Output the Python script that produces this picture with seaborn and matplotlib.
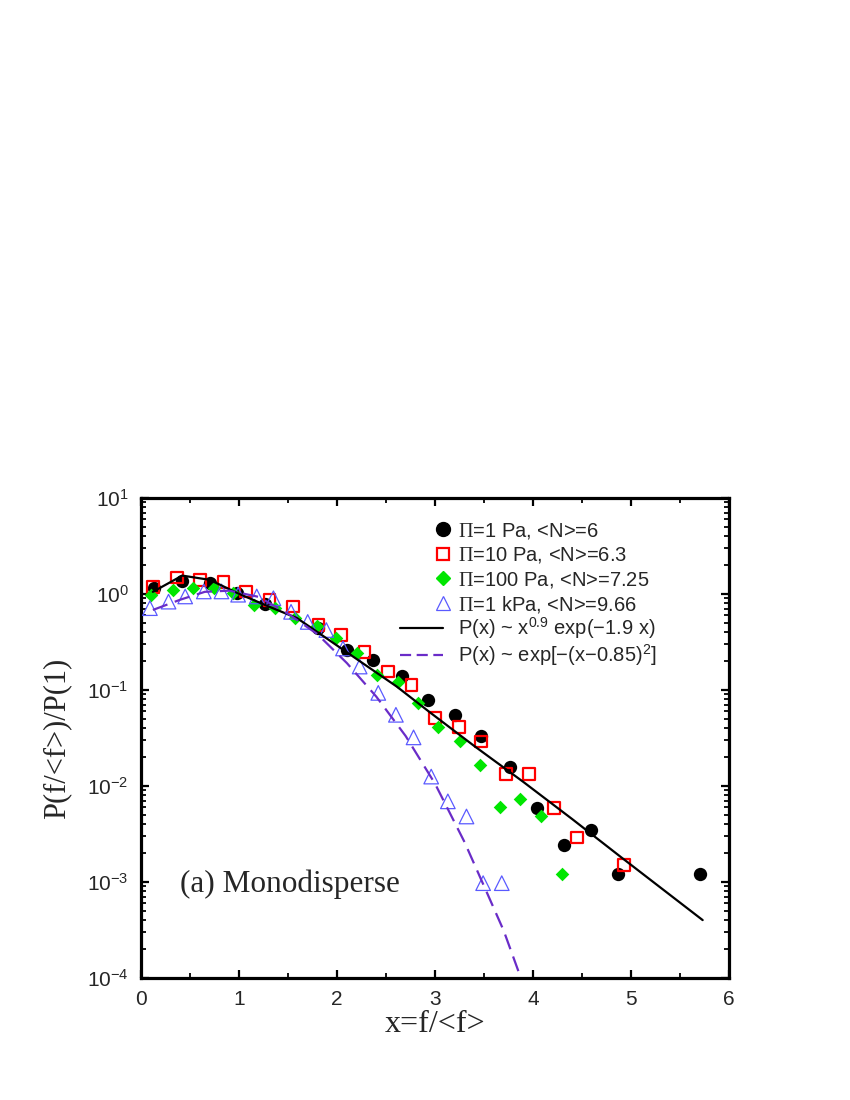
import numpy as np
import pandas as pd
import matplotlib
matplotlib.use("Agg")
import matplotlib.pyplot as plt
import seaborn as sns
from matplotlib.lines import Line2D
from matplotlib.legend_handler import HandlerLine2D
from matplotlib.ticker import MultipleLocator, LogLocator, FuncFormatter, NullFormatter

# ---------------- data ----------------
x_1pa = [0.13, 0.42, 0.70, 0.98, 1.26, 1.80, 2.10, 2.37, 2.66, 2.93, 3.20, 3.47,
         3.76, 4.04, 4.31, 4.59, 4.87, 5.70]
y_1pa = [1.15, 1.37, 1.30, 1.02, 0.79, 0.44, 0.26, 0.205, 0.138, 0.079, 0.055, 0.033,
         0.0157, 0.0059, 0.0024, 0.0035, 0.0012, 0.0012]

x_10pa = [0.12, 0.37, 0.60, 0.84, 1.07, 1.31, 1.55, 1.81, 2.04, 2.28, 2.52, 2.76,
          3.00, 3.24, 3.47, 3.72, 3.96, 4.21, 4.45, 4.93]
y_10pa = [1.19, 1.48, 1.40, 1.34, 1.06, 0.87, 0.74, 0.475, 0.374, 0.25, 0.155, 0.113,
          0.051, 0.041, 0.029, 0.0133, 0.0133, 0.0059, 0.0029, 0.0015]

x_100pa = [0.10, 0.33, 0.53, 0.74, 0.94, 1.15, 1.37, 1.57, 1.79, 1.99, 2.20, 2.41,
           2.62, 2.83, 3.03, 3.25, 3.46, 3.66, 3.87, 4.08, 4.29]
y_100pa = [0.98, 1.10, 1.15, 1.15, 1.02, 0.76, 0.72, 0.56, 0.46, 0.345, 0.24, 0.143,
           0.122, 0.073, 0.041, 0.029, 0.0166, 0.006, 0.0073, 0.0048, 0.0012]

x_1kpa = [0.09, 0.28, 0.45, 0.64, 0.82, 0.99, 1.18, 1.35, 1.53, 1.70, 1.89, 2.06,
          2.23, 2.42, 2.60, 2.78, 2.96, 3.13, 3.32, 3.49, 3.68]
y_1kpa = [0.71, 0.83, 0.94, 1.06, 1.06, 0.98, 0.94, 0.90, 0.65, 0.51, 0.42, 0.27,
          0.175, 0.093, 0.055, 0.032, 0.0125, 0.0069, 0.0048, 0.00097, 0.00097]

# fitted curves, as drawn (polyline vertices)
x_fit_pow = [0.12, 0.42, 0.70, 1.00, 1.30, 1.59, 1.90, 2.26, 2.61, 2.95, 3.40, 3.90,
             4.40, 4.90, 5.73]
y_fit_pow = [1.05, 1.55, 1.40, 1.00, 0.74, 0.56, 0.34, 0.19, 0.108, 0.058, 0.026, 0.011,
             0.0045, 0.0018, 0.0004]

x_fit_gau = [0.12, 0.40, 0.65, 0.90, 1.20, 1.50, 1.80, 2.10, 2.40, 2.70, 3.00, 3.30,
             3.50, 3.70, 3.86]
y_fit_gau = [0.68, 0.87, 1.05, 1.08, 0.93, 0.62, 0.38, 0.19, 0.085, 0.033, 0.0105, 0.0026,
             0.00090, 0.00031, 0.00011]

labels = [r"$\Pi$=1 Pa, <N>=6",
          r"$\Pi$=10 Pa, <N>=6.3",
          r"$\Pi$=100 Pa, <N>=7.25",
          r"$\Pi$=1 kPa, <N>=9.66",
          r"P(x) ~ x$^{\mathsf{0.9}}$ exp(−1.9 x)",
          r"P(x) ~ exp[−(x−0.85)$^{\mathsf{2}}$]"]

x_ticks = [0, 1, 2, 3, 4, 5, 6]

# ---------------- style ----------------
sns.set_style("ticks")
plt.rcParams["font.family"] = ["Liberation Sans", "DejaVu Sans"]
plt.rcParams["mathtext.fontset"] = "custom"
plt.rcParams["mathtext.rm"] = "Liberation Serif"
plt.rcParams["mathtext.sf"] = "Liberation Sans"
plt.rcParams["mathtext.it"] = "Liberation Serif:italic"

BLACK = "#000000"
RED = "#ff0000"
GREEN = "#00e600"
BLUE = "#5a5aff"
PURPLE = "#6a2cc8"

fig = plt.figure(figsize=(8.5, 11), dpi=100)
ax = fig.add_axes([0.166, 0.111, 0.6918, 0.4364])

# ---------------- markers ----------------
sns.scatterplot(x=x_1pa, y=y_1pa, ax=ax, marker="o", s=92, color=BLACK,
                edgecolor=BLACK, linewidth=0, zorder=3)
sns.scatterplot(x=x_10pa, y=y_10pa, ax=ax, marker="s", s=72, facecolor="none",
                edgecolor=RED, linewidth=1.6, zorder=4)
sns.scatterplot(x=x_100pa, y=y_100pa, ax=ax, marker="D", s=48, color=GREEN,
                edgecolor=GREEN, linewidth=0, zorder=5)
sns.scatterplot(x=x_1kpa, y=y_1kpa, ax=ax, marker="^", s=110, facecolor="none",
                edgecolor=BLUE, linewidth=0.9, zorder=6)

# ---------------- fitted curves ----------------
sns.lineplot(x=x_fit_pow, y=y_fit_pow, ax=ax, color=BLACK, linewidth=1.6,
             sort=False, estimator=None, zorder=7)
sns.lineplot(x=x_fit_gau, y=y_fit_gau, ax=ax, color=PURPLE, linewidth=1.6,
             sort=False, estimator=None, zorder=7, dashes=False,
             linestyle=(0, (7, 3.5)))

# ---------------- axes ----------------
ax.set_yscale("log")
ax.set_xlim(0, 6)
ax.set_ylim(1e-4, 1e1)
ax.xaxis.set_major_locator(MultipleLocator(1))
ax.xaxis.set_minor_locator(MultipleLocator(0.5))
ax.set_xticks(x_ticks)
ax.set_xticklabels([str(t) for t in x_ticks])
ax.yaxis.set_major_locator(LogLocator(base=10, numticks=10))
ax.yaxis.set_minor_locator(LogLocator(base=10, subs=np.arange(2, 10), numticks=20))
ax.yaxis.set_minor_formatter(NullFormatter())
ax.yaxis.set_major_formatter(FuncFormatter(
    lambda v, p: r"$\mathsf{10}^{\mathsf{%d}}$" % int(round(np.log10(v)))))

for s in ax.spines.values():
    s.set_linewidth(2.3)
    s.set_color("black")
    s.set_visible(True)
ax.tick_params(which="both", direction="in", top=True, right=True, color="black")
ax.tick_params(which="major", length=6, width=1.6, labelsize=15, pad=9)
ax.tick_params(which="minor", length=3.5, width=1.3)

ax.set_xlabel("x=f/<f>", family=["Liberation Serif"], fontsize=23)
ax.set_ylabel("P(f/<f>)/P(1)", family=["Liberation Serif"], fontsize=22)
ax.xaxis.set_label_coords(0.5, -0.066)
ax.yaxis.set_label_coords(-0.118, 0.5)
ax.grid(False)

ax.text(0.066, 0.196, "(a) Monodisperse", transform=ax.transAxes,
        family=["Liberation Serif"], fontsize=22.5, ha="left", va="center")

# ---------------- legend ----------------
class RightMarker(HandlerLine2D):
    """Single marker placed at the right end of the legend handle."""
    def create_artists(self, legend, orig_handle, xdescent, ydescent, width,
                       height, fontsize, trans):
        xm = [-xdescent + width]
        ym = [(height - ydescent) / 2]
        legline = Line2D(xm, ym)
        self.update_prop(legline, orig_handle, legend)
        legline.set_linestyle("none")
        legline.set_transform(trans)
        return [legline]

handles = [
    Line2D([], [], ls="none", marker="o", ms=10, color=BLACK, mec=BLACK),
    Line2D([], [], ls="none", marker="s", ms=8.5, mfc="none", mec=RED, mew=1.6),
    Line2D([], [], ls="none", marker="D", ms=7, color=GREEN, mec=GREEN),
    Line2D([], [], ls="none", marker="^", ms=10, mfc="none", mec=BLUE, mew=0.9),
    Line2D([], [], color=BLACK, lw=1.6),
    Line2D([], [], color=PURPLE, lw=1.6, ls=(0, (5, 2.5))),
]
hm = {h: RightMarker() for h in handles[:4]}
common = dict(loc="upper left", frameon=False, fontsize=14.5, handlelength=2.12,
              handletextpad=0.75, borderpad=0, borderaxespad=0)
leg1 = ax.legend(handles[:4], labels[:4], bbox_to_anchor=(0.44, 0.952),
                 labelspacing=0.215, handler_map=hm, **common)
ax.add_artist(leg1)
leg2 = ax.legend(handles[4:], labels[4:], bbox_to_anchor=(0.44, 0.7535),
                 labelspacing=0.06, **common)

fig.savefig("out.png", dpi=100)
